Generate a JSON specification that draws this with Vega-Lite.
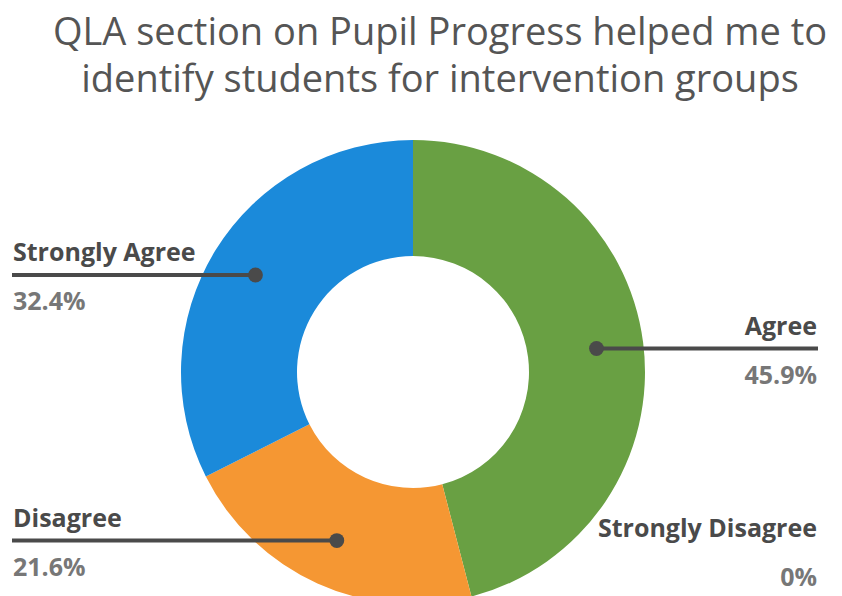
{
  "$schema": "https://vega.github.io/schema/vega-lite/v6.json",
  "width": 842,
  "height": 496,
  "autosize": {"type": "none"},
  "padding": {"top": 100, "left": 0, "right": 0, "bottom": 0},
  "background": "white",
  "config": {"view": {"stroke": null}},
  "title": {
    "text": ["QLA section on Pupil Progress helped me to", "identify students for intervention groups"],
    "font": "Open Sans",
    "fontSize": 38,
    "fontWeight": 400,
    "color": "#555555",
    "lineHeight": 47,
    "anchor": "middle",
    "frame": "group",
    "dx": 19,
    "offset": 0
  },
  "data": {
    "values": [
      {"cat": "Agree", "v": 45.9, "k": 1},
      {"cat": "Strongly Disagree", "v": 0, "k": 2},
      {"cat": "Disagree", "v": 21.6, "k": 3},
      {"cat": "Strongly Agree", "v": 32.4, "k": 4}
    ]
  },
  "layer": [
    {
      "mark": {"type": "arc", "outerRadius": 232, "innerRadius": 116},
      "encoding": {
        "x": {"datum": 0, "type": "quantitative", "scale": {"domain": [-413, 429], "nice": false, "zero": false}, "axis": null},
        "y": {"datum": 0, "type": "quantitative", "scale": {"domain": [-224, 272], "nice": false, "zero": false}, "axis": null},
        "theta": {"field": "v", "type": "quantitative", "stack": true},
        "order": {"field": "k", "type": "quantitative"},
        "color": {
          "field": "cat",
          "type": "nominal",
          "scale": {"domain": ["Agree", "Strongly Disagree", "Disagree", "Strongly Agree"], "range": ["#69a043", "#c0392b", "#f59733", "#1b8ada"]},
          "legend": null
        }
      }
    },
    {
      "transform": [
        {"window": [{"op": "sum", "field": "v", "as": "cum"}], "sort": [{"field": "k"}], "frame": [null, 0]},
        {"joinaggregate": [{"op": "sum", "field": "v", "as": "total"}]},
        {"calculate": "(datum.cum - datum.v / 2) / datum.total * 2 * PI", "as": "mid"},
        {"calculate": "185 * sin(datum.mid)", "as": "px"},
        {"calculate": "185 * cos(datum.mid)", "as": "py"},
        {"calculate": "datum.px > 0 ? 405 : -401", "as": "edge"},
        {"calculate": "datum.px > 0 ? 404 : -400", "as": "tx"},
        {"calculate": "datum.px > 0 ? 'R' : 'L'", "as": "side"},
        {"calculate": "format(datum.v, '.1~f') + '%'", "as": "pct"}
      ],
      "layer": [
        {
          "transform": [{"filter": "datum.v > 0"}],
          "mark": {"type": "rule", "color": "#4a4a4a", "strokeWidth": 4},
          "encoding": {
            "x": {"field": "px", "type": "quantitative"},
            "x2": {"field": "edge"},
            "y": {"field": "py", "type": "quantitative"}
          }
        },
        {
          "transform": [{"filter": "datum.v > 0"}],
          "mark": {"type": "point", "filled": true, "opacity": 1, "color": "#4a4a4a", "size": 220},
          "encoding": {
            "x": {"field": "px", "type": "quantitative"},
            "y": {"field": "py", "type": "quantitative"}
          }
        },
        {
          "transform": [{"filter": "datum.side == 'R'"}],
          "mark": {"type": "text", "align": "right", "baseline": "alphabetic", "dy": -14, "font": "Open Sans", "fontWeight": "bold", "fontSize": 25, "color": "#4a4a4a"},
          "encoding": {
            "x": {"field": "tx", "type": "quantitative"},
            "y": {"field": "py", "type": "quantitative"},
            "text": {"field": "cat"}
          }
        },
        {
          "transform": [{"filter": "datum.side == 'R'"}],
          "mark": {"type": "text", "align": "right", "baseline": "alphabetic", "dy": 35, "font": "Open Sans", "fontWeight": "bold", "fontSize": 25, "color": "#777777"},
          "encoding": {
            "x": {"field": "tx", "type": "quantitative"},
            "y": {"field": "py", "type": "quantitative"},
            "text": {"field": "pct"}
          }
        },
        {
          "transform": [{"filter": "datum.side == 'L'"}],
          "mark": {"type": "text", "align": "left", "baseline": "alphabetic", "dy": -14, "font": "Open Sans", "fontWeight": "bold", "fontSize": 25, "color": "#4a4a4a"},
          "encoding": {
            "x": {"field": "tx", "type": "quantitative"},
            "y": {"field": "py", "type": "quantitative"},
            "text": {"field": "cat"}
          }
        },
        {
          "transform": [{"filter": "datum.side == 'L'"}],
          "mark": {"type": "text", "align": "left", "baseline": "alphabetic", "dy": 35, "font": "Open Sans", "fontWeight": "bold", "fontSize": 25, "color": "#777777"},
          "encoding": {
            "x": {"field": "tx", "type": "quantitative"},
            "y": {"field": "py", "type": "quantitative"},
            "text": {"field": "pct"}
          }
        }
      ]
    }
  ]
}
